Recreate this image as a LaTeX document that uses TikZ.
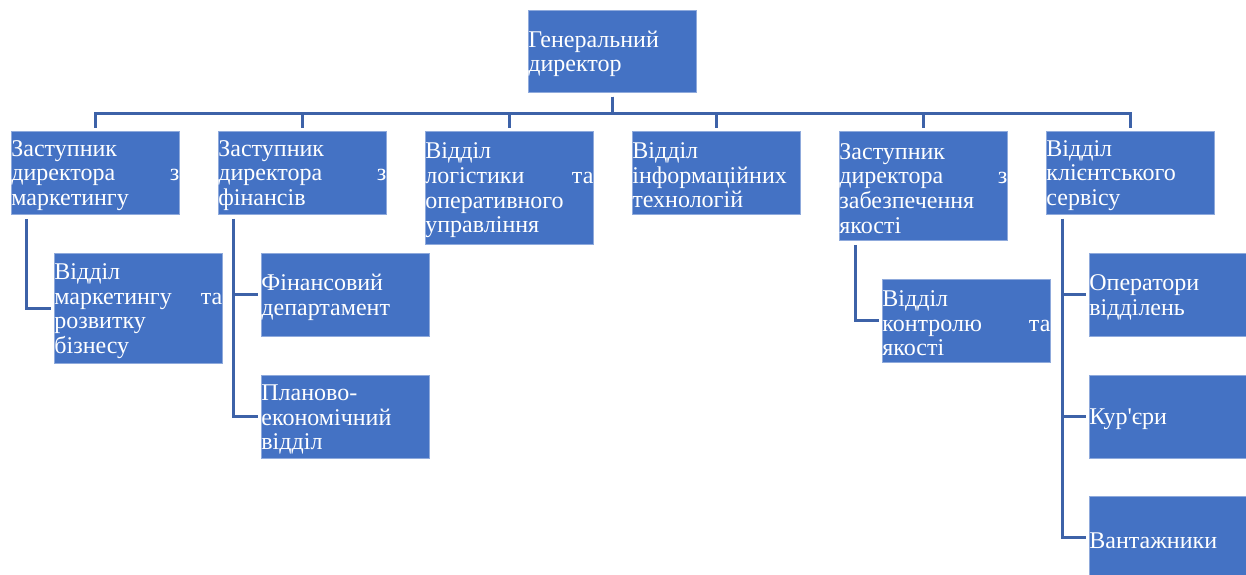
\documentclass[tikz,border=0pt]{standalone}
\usepackage{fontspec}
\newfontfamily\orgfont{Liberation Serif}
\setlength{\parindent}{0pt}
\definecolor{unitfill}{HTML}{4472C4}
\definecolor{unitedge}{HTML}{8FAADC}
\definecolor{linkblue}{HTML}{3D62A8}

\begin{document}
\begin{tikzpicture}[x=1pt,y=-1pt,
  unit/.style={draw=unitedge,line width=0.8pt,fill=unitfill,text=white,
    anchor=north west,inner sep=0pt,text width=168pt,minimum height=83pt,
    align=left,font=\orgfont\fontsize{24}{24.6}\selectfont,
    execute at begin node={\rule{0pt}{21pt}}},
  link/.style={linkblue,line width=3pt,shorten <=4pt,shorten >=3pt}]
  \useasboundingbox (0,0) rectangle (1246,574);
  % top
  \node[unit,minimum height=82pt] (gd) at (528,10) {Генеральний\\ директор};
  % first level
  \node[unit] (mkt) at (11,131) {Заступник\\ директора\hfill з\\ маркетингу};
  \node[unit] (fin) at (218,131) {Заступник\\ директора\hfill з\\ фінансів};
  \node[unit,minimum height=113pt] (log) at (425,131) {Відділ\\ логістики\hfill та\\ оперативного\\ управління};
  \node[unit] (it) at (632,131) {Відділ\\ інформаційних\\ технологій};
  \node[unit,minimum height=109pt] (qa) at (839,131) {Заступник\\ директора\hfill з\\ забезпечення\\ якості};
  \node[unit] (cs) at (1046,131) {Відділ\\ клієнтського\\ сервісу};
  % second level
  \node[unit,minimum height=110pt] (mktdev) at (54,253) {Відділ\\ маркетингу\hfill та\\ розвитку\\ бізнесу};
  \node[unit] (findep) at (261,253) {Фінансовий\\ департамент};
  \node[unit] (plan) at (261,375) {Планово-\\ економічний\\ відділ};
  \node[unit] (qactl) at (882,279) {Відділ\\ контролю\hfill та\\ якості};
  \node[unit] (ops) at (1089,253) {Оператори\\ відділень};
  \node[unit] (cour) at (1089,375) {Кур'єри};
  \node[unit] (load) at (1089,496) {Вантажники};
  % connectors
  \foreach \n in {mkt,fin,log,it,qa,cs}
    \draw[link] (gd.south) -- ++(0,21) -| (\n.north);
  \draw[link] ([xshift=15pt]mkt.south west) |- (mktdev.west);
  \foreach \n in {findep,plan}
    \draw[link] ([xshift=15pt]fin.south west) |- (\n.west);
  \draw[link] ([xshift=16pt]qa.south west) |- (qactl.west);
  \foreach \n in {ops,cour,load}
    \draw[link] ([xshift=16pt]cs.south west) |- (\n.west);
\end{tikzpicture}
\end{document}
